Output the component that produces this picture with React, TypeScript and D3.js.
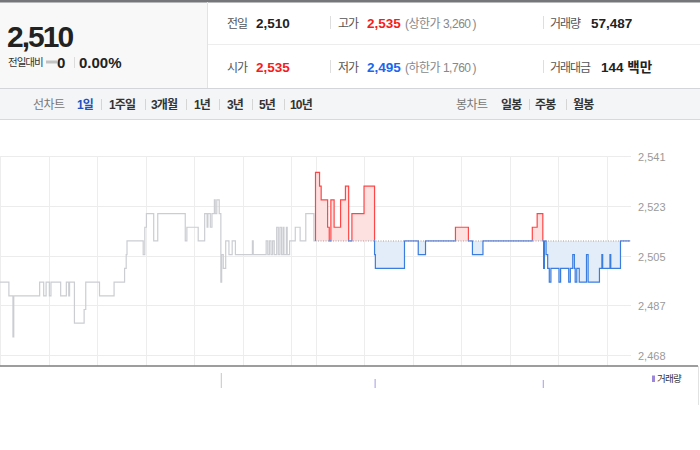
import React from "react";
import * as d3 from "d3";

// ---------- data ----------
const prevClose = 2510;
const prevMinutes = [0, 11, 16, 17, 49, 54, 57, 61, 63, 75, 82, 85, 86, 92, 104, 106, 123, 141, 154, 156, 157, 177, 179, 181, 190, 195, 229, 231, 245, 253, 256, 257, 260, 262, 265, 266, 268, 271, 273, 274, 276, 279, 283, 287, 291, 312, 313, 329, 331, 333, 335, 337, 339, 342, 344, 346, 348, 350, 351, 354, 355, 358, 365, 371, 378, 388, 390];
const prevPrices = [2495, 2490, 2475, 2490, 2495, 2490, 2495, 2490, 2495, 2490, 2495, 2490, 2495, 2480, 2485, 2495, 2490, 2495, 2500, 2505, 2510, 2505, 2515, 2520, 2510, 2520, 2510, 2515, 2510, 2520, 2515, 2520, 2515, 2520, 2525, 2520, 2525, 2520, 2495, 2505, 2500, 2510, 2505, 2510, 2505, 2510, 2505, 2510, 2505, 2510, 2505, 2510, 2505, 2515, 2505, 2515, 2505, 2515, 2505, 2515, 2505, 2510, 2515, 2510, 2520, 2510, 2510];
const todayMinutes = [0, 5, 7, 15, 17, 19, 23, 31, 37, 41, 45, 60, 73, 74, 110, 127, 136, 173, 189, 194, 207, 268, 274, 281, 282, 283, 285, 287, 289, 291, 301, 303, 313, 315, 318, 320, 321, 323, 326, 335, 337, 351, 354, 355, 364, 365, 377, 389];
const todayPrices = [2535, 2530, 2525, 2515, 2510, 2525, 2515, 2525, 2530, 2510, 2520, 2530, 2505, 2500, 2510, 2505, 2510, 2515, 2510, 2505, 2510, 2515, 2520, 2510, 2500, 2510, 2505, 2500, 2495, 2500, 2495, 2500, 2495, 2500, 2505, 2500, 2495, 2500, 2495, 2505, 2495, 2500, 2505, 2500, 2505, 2500, 2510, 2510];
const volMinutes = [273.5, 463.6, 671.5];
const volValues = [15000, 9000, 8000];
const volSession = ["prev", "today", "today"];
const hourMarks = [0, 60, 120, 180, 240, 300, 360, 390, 450, 510, 570, 630, 690, 750];

const rangeLabels = ["1일", "1주일", "3개월", "1년", "3년", "5년", "10년"];
const candleLabels = ["일봉", "주봉", "월봉"];

// ---------- layout ----------
const W = 700;
const H = 450;
const FONT = "'Liberation Sans', Arial, 'Noto Sans CJK KR', sans-serif";
const x = d3.scaleLinear().domain([0, 780]).range([0, 631]);
const yMin = 2468.4;
const yMax = 2541.0;
const y = d3.scaleLinear().domain([yMin, yMax]).range([355, 156]);
const yTicks = d3.range(5).map((i) => yMin + (i * (yMax - yMin)) / 4);
const vol = d3.scaleLinear().domain([0, 15000]).range([388, 373]);
const fmt = d3.format(",.0f");

type P = [number, number];

export default function App() {
  const prevPts: P[] = prevMinutes.map((m, i) => [m, prevPrices[i]]);
  const todayPts: P[] = [[390, prevClose], ...todayMinutes.map((m, i) => [390 + m, todayPrices[i]] as P)];
  const line = d3
    .line<P>()
    .x((d) => x(d[0]))
    .y((d) => y(d[1]))
    .curve(d3.curveStepAfter);
  const area = d3
    .area<P>()
    .x((d) => x(d[0]))
    .y0(y(prevClose))
    .y1((d) => y(d[1]))
    .curve(d3.curveStepAfter);
  const by = y(prevClose);
  const tx0 = x(390);
  const tx1 = x(390 + todayMinutes[todayMinutes.length - 1]);

  const rangeX = [77, 109, 151, 194, 227, 259, 290];
  const rangeSep = [101, 145, 186, 219, 252, 284];
  const candleX = [501, 535, 573];
  const candleSep = [529, 566];

  return (
    <div style={{ width: W, height: H }}>
      <style>{`body{margin:0}`}</style>
      <svg width={W} height={H} style={{ display: "block", fontFamily: FONT }}>
        <defs>
          <clipPath id="up">
            <rect x={0} y={0} width={W} height={by} />
          </clipPath>
          <clipPath id="down">
            <rect x={0} y={by} width={W} height={H - by} />
          </clipPath>
          <clipPath id="upL">
            <rect x={0} y={0} width={W} height={by - 0.7} />
          </clipPath>
          <clipPath id="downL">
            <rect x={0} y={by - 0.7} width={W} height={H - by} />
          </clipPath>
        </defs>
        <rect x={0} y={0} width={W} height={H} fill="#fff" />

        {/* header */}
        <rect x={0} y={0} width={207} height={88} fill="#f8f8f8" />
        <rect x={0} y={0} width={W} height={2.5} fill="#74767a" />
        <line x1={207.5} y1={2} x2={207.5} y2={88} stroke="#e3e3e3" />
        <line x1={208} y1={44.5} x2={W} y2={44.5} stroke="#ededed" />
        <text x={7} y={47} fontSize={30} fontWeight="bold" fill="#222" letterSpacing={-2}>2,510</text>
        <text x={8} y={66} fontSize={10.5} fill="#333" letterSpacing={-1}>전일대비</text>
        <rect x={46} y={60.5} width={11} height={3} fill="#c2c2c2" />
        <text x={57} y={67.5} fontSize={15} fontWeight="bold" fill="#222">0</text>
        <line x1={74.5} y1={57} x2={74.5} y2={68} stroke="#dcdcdc" />
        <text x={79} y={67.5} fontSize={15} fontWeight="bold" fill="#222">0.00%</text>

        {[
          { lx: 227, label: "전일", vx: 256, v: "2,510", c: "#222", row: 0 },
          { lx: 227, label: "시가", vx: 256, v: "2,535", c: "#f51c1c", row: 1 },
          { lx: 338, label: "고가", vx: 367, v: "2,535", c: "#f51c1c", row: 0 },
          { lx: 338, label: "저가", vx: 367, v: "2,495", c: "#1a66ee", row: 1 },
          { lx: 550, label: "거래량", vx: 591, v: "57,487", c: "#222", row: 0 },
          { lx: 550, label: "거래대금", vx: 601, v: "144 백만", c: "#222", row: 1 },
        ].map((d, i) => (
          <g key={i}>
            <text x={d.lx} y={d.row ? 72 : 28} fontSize={12} fill="#555" letterSpacing={-1}>{d.label}</text>
            <text x={d.vx} y={d.row ? 72 : 28} fontSize={13.5} fontWeight="bold" fill={d.c}>{d.v}</text>
          </g>
        ))}
        <text x={405} y={28} fontSize={12} fill="#888" letterSpacing={-0.5}>(상한가 3,260<tspan dx={2}>)</tspan></text>
        <text x={405} y={72} fontSize={12} fill="#888" letterSpacing={-0.5}>(하한가 1,760<tspan dx={2}>)</tspan></text>
        {[330.5, 543.5].map((sx) => (
          <g key={sx}>
            <line x1={sx} y1={16} x2={sx} y2={29} stroke="#dedede" />
            <line x1={sx} y1={60} x2={sx} y2={73} stroke="#dedede" />
          </g>
        ))}

        {/* nav bar */}
        <rect x={0} y={88} width={W} height={31.5} fill="#f4f5f7" />
        <line x1={0} y1={88.5} x2={W} y2={88.5} stroke="#d3d5da" />
        <line x1={0} y1={119.5} x2={W} y2={119.5} stroke="#d7d9de" />
        <text x={33} y={109} fontSize={12} fill="#777" letterSpacing={-0.5}>선차트</text>
        {rangeLabels.map((t, i) => (
          <text key={t} x={rangeX[i]} y={109} fontSize={12} fontWeight="bold" fill={i === 0 ? "#2150c0" : "#333"} letterSpacing={-0.8}>{t}</text>
        ))}
        {rangeSep.map((sx) => (
          <line key={sx} x1={sx + 0.5} y1={99} x2={sx + 0.5} y2={110} stroke="#d5d5d5" />
        ))}
        <text x={456} y={109} fontSize={12} fill="#777" letterSpacing={-0.5}>봉차트</text>
        {candleLabels.map((t, i) => (
          <text key={t} x={candleX[i]} y={109} fontSize={12} fontWeight="bold" fill="#333" letterSpacing={-0.8}>{t}</text>
        ))}
        {candleSep.map((sx) => (
          <line key={sx} x1={sx + 0.5} y1={99} x2={sx + 0.5} y2={110} stroke="#d5d5d5" />
        ))}

        {/* grid */}
        {yTicks.map((t) => (
          <g key={t}>
            <line x1={0} x2={631} y1={Math.round(y(t)) + 0.5} y2={Math.round(y(t)) + 0.5} stroke="#ececec" />
            <text x={638} y={Math.round(y(t)) + 4.5} fontSize={11} fill="#9a9a9a">{fmt(t)}</text>
          </g>
        ))}
        {hourMarks.map((m) => (
          <line key={m} x1={Math.round(x(m)) + 0.5} x2={Math.round(x(m)) + 0.5} y1={156} y2={366} stroke="#ededed" />
        ))}

        {/* previous day */}
        <path d={line(prevPts) || ""} fill="none" stroke="#cbcdd2" strokeWidth={1.2} />

        {/* today */}
        <path d={area(todayPts) || ""} fill="#fde1e1" clipPath="url(#up)" />
        <path d={area(todayPts) || ""} fill="#e3edf9" clipPath="url(#down)" />
        <line x1={tx0} x2={tx1} y1={by} y2={by} stroke="#a0a0a0" strokeDasharray="1,1.5" />
        <path d={line(todayPts) || ""} fill="none" stroke="#ff4545" strokeWidth={1.2} clipPath="url(#upL)" />
        <path d={line(todayPts) || ""} fill="none" stroke="#3a7ddf" strokeWidth={1.2} clipPath="url(#downL)" />

        {/* axis + volume panel */}
        <line x1={0} x2={698} y1={366} y2={366} stroke="#7d7d7d" strokeWidth={1.3} />
        <line x1={698.5} x2={698.5} y1={366} y2={405} stroke="#e2e2e2" />
        {volMinutes.map((m, i) => (
          <rect key={m} x={x(m) - 0.5} y={vol(volValues[i])} width={1.2} height={vol(0) - vol(volValues[i])} fill={volSession[i] === "prev" ? "#cfcfcf" : "#b9a9e8"} />
        ))}
        <rect x={652} y={375.5} width={3} height={6.5} fill="#9d87da" />
        <text x={657} y={382} fontSize={9.5} fill="#333" letterSpacing={-0.8}>거래량</text>
      </svg>
    </div>
  );
}
